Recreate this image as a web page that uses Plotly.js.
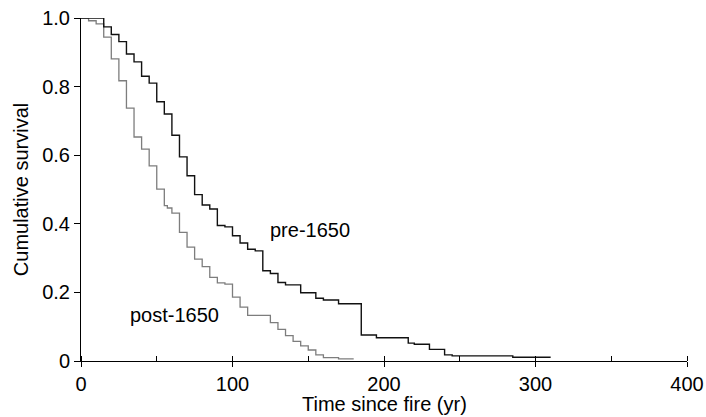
<!DOCTYPE html>
<html>
<head>
<meta charset="utf-8">
<script src="https://cdn.plot.ly/plotly-3.0.1.min.js"></script>
<style>html,body{margin:0;padding:0;background:#fff}#chart{width:706px;height:417px}</style>
</head>
<body>
<div id="chart"></div>
<script>
// pre-1650 (black) Kaplan-Meier steps: step start times (yr) and survival
const preX = [0, 15, 20, 25, 30, 35, 40, 45, 50, 55, 60, 65, 70, 75, 80, 85, 90, 95, 100, 105, 110, 115, 120, 125, 130, 135, 145, 155, 160, 170, 185, 195, 216, 220, 230, 240, 245, 285, 310];
const preY = [1.0, 0.974, 0.952, 0.931, 0.895, 0.872, 0.830, 0.810, 0.756, 0.720, 0.658, 0.595, 0.540, 0.485, 0.455, 0.443, 0.395, 0.391, 0.365, 0.344, 0.326, 0.321, 0.263, 0.255, 0.229, 0.222, 0.199, 0.183, 0.178, 0.167, 0.076, 0.068, 0.052, 0.049, 0.034, 0.018, 0.015, 0.011, 0.011];
// post-1650 (grey)
const postX = [0, 5, 10, 15, 20, 25, 30, 35, 40, 45, 50, 55, 57, 60, 65, 70, 75, 80, 85, 90, 95, 100, 105, 110, 125, 130, 135, 140, 145, 150, 155, 160, 170, 180];
const postY = [1.0, 0.992, 0.983, 0.944, 0.881, 0.817, 0.737, 0.653, 0.618, 0.569, 0.501, 0.453, 0.446, 0.431, 0.375, 0.332, 0.297, 0.275, 0.244, 0.228, 0.224, 0.186, 0.157, 0.133, 0.112, 0.092, 0.074, 0.057, 0.044, 0.032, 0.018, 0.010, 0.006, 0.006];

const yTickVals = [0, 0.2, 0.4, 0.6, 0.8, 1.0];
const yTickText = ['0', '0.2', '0.4', '0.6', '0.8', '1.0'];
const xTickVals = [0, 100, 200, 300, 400];

const labels = [
  {text: 'pre-1650', x: 151, y: 0.382},
  {text: 'post-1650', x: 62, y: 0.134}
];
const xTitle = 'Time since fire (yr)';
const yTitle = 'Cumulative survival';

const font = {family: '"Liberation Sans", Arial, sans-serif', size: 20, color: '#000'};

const traces = [
  {x: postX, y: postY, mode: 'lines', line: {shape: 'hv', color: '#7d7d7d', width: 1.3}, hoverinfo: 'skip'},
  {x: preX, y: preY, mode: 'lines', line: {shape: 'hv', color: '#111', width: 1.4}, hoverinfo: 'skip'}
];

const annotations = labels.map(l => ({text: l.text, x: l.x, y: l.y, xref: 'x', yref: 'y', showarrow: false, font: font}));
annotations.push({text: xTitle, x: 0.5, y: -0.125, xref: 'paper', yref: 'paper', xanchor: 'center', yanchor: 'middle', showarrow: false, font: font});

const layout = {
  width: 706, height: 417,
  margin: {l: 81, r: 19, t: 18, b: 56},
  paper_bgcolor: '#fff', plot_bgcolor: '#fff',
  showlegend: false,
  font: font,
  xaxis: {
    range: [0, 400], tickvals: xTickVals, ticks: 'outside', ticklen: 5, tickwidth: 1, tickcolor: '#000',
    showline: true, linecolor: '#000', linewidth: 1, showgrid: false, zeroline: false,
    minor: {dtick: 50, tick0: 0, ticks: 'inside', ticklen: 5, tickcolor: '#000', showgrid: false},
    tickfont: font
  },
  yaxis: {
    range: [0, 1.0], tickvals: yTickVals, ticktext: yTickText, ticks: 'outside', ticklen: 6, tickwidth: 1, tickcolor: '#000',
    showline: true, linecolor: '#000', linewidth: 1, showgrid: false, zeroline: false,
    title: {text: yTitle, font: font, standoff: 8},
    tickfont: font
  },
  annotations: annotations
};

Plotly.newPlot('chart', traces, layout, {displayModeBar: false, staticPlot: true});
</script>
</body>
</html>
